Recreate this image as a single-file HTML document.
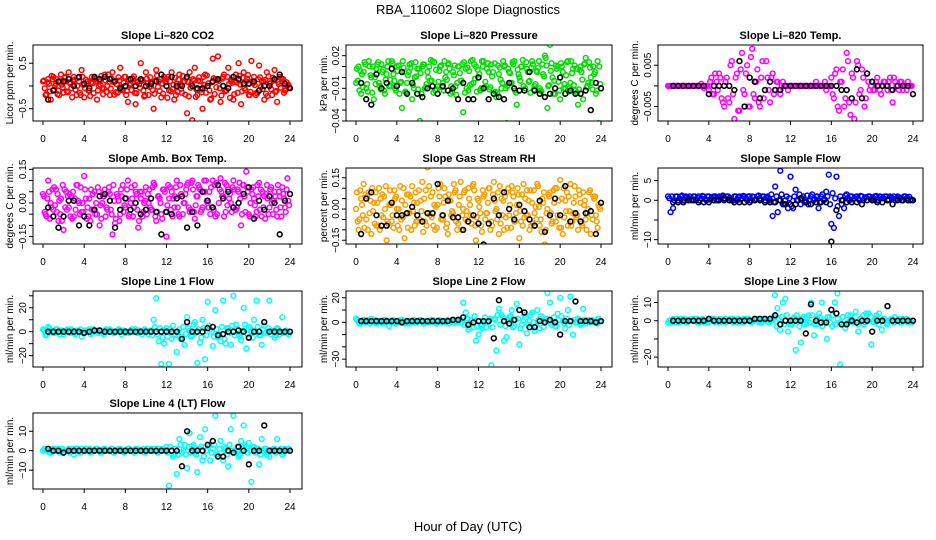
<!DOCTYPE html>
<html><head><meta charset="utf-8"><title>RBA_110602 Slope Diagnostics</title>
<style>
body{margin:0;background:#fff;}
svg{display:block;font-family:"Liberation Sans",Arial,sans-serif;}
.t{font-size:11px;font-weight:bold;}
.tk{font-size:10px;}
.yl{font-size:10px;}
</style></head>
<body>
<svg id="chart" width="936" height="540" viewBox="0 0 936 540" xmlns="http://www.w3.org/2000/svg">
<rect width="936" height="540" fill="#fff"/>
<text x="468" y="14" text-anchor="middle" font-size="13">RBA_110602  Slope Diagnostics</text>
<text x="468" y="531" text-anchor="middle" font-size="13">Hour of Day (UTC)</text>
</svg>
<script>
// ---- data (values per panel) ----
const xTicks = [0,4,8,12,16,20,24];
const co2 = [0.1,-0.2,0.15,-0.3,0.2,0.05,-0.1,0.25,-0.15,0.1,0.3,-0.05,0.2,-0.2,0.1,0.35,-0.25,0.05,-0.1,0.2,0.15,-0.3,0.1,-0.05,0.25,0.0,-0.2,0.3,0.1,-0.15,0.4,-0.1,0.2,-0.35,0.05,0.15,-0.4,0.1,0.5,-0.1,0.3,-0.2,0.0,-0.5,0.35,0.1,-0.25,0.2,0.15,-0.1,0.3,-0.3,0.05,0.25,-0.15,0.1,-0.6,0.3,-0.75,0.4,-0.2,0.1,-0.5,0.25,0.95,-0.3,0.6,0.15,0.65,-0.35,0.2,-0.1,0.4,0.1,-0.3,0.25,0.5,-0.4,0.3,0.1,-0.2,0.55,0.2,-0.15,0.45,0.1,-0.3,0.3,0.05,-0.2,0.35,-0.35,0.2,0.1,-0.1,0.0];
const co2B = [12,-18,5,22,-8,15,-20,3,18,-12,8,-25,14,0,-15,20,-5,10,-22,6,17,-10,2,-18,12,25,-6,9,-14,19,-3,7,-20,13,-9,21,-16,4,11,-23,16,-2,8,-17,23,-11,5,14,-26,10,-7,18,-13,3,22,-19,9,-4,15,-24,12,-8,20,-15,6,-28,17,-3,11,-21,25,-10,4,14,-18,8,22,-12,-5,16,-20,10,2,-16,19,-7,13,-22,6,18,-13,9,-4,15,-9,3].map(v=>v/100);
const co2C = [-5,8,-12,15,0,-18,10,-3,20,-14,5,12,-8,18,-20,2,14,-10,7,-16,11,0,22,-6,-13,9,16,-19,4,12,-7,20,-11,2,17,-15,8,-4,13,-21,6,19,-9,11,-2,15,-17,8,20,-12,3,-20,14,-6,10,17,-23,5,12,-8,19,-14,2,23,-10,8,-18,13,-5,16,-12,20,-26,7,11,-15,3,18,-9,24,-13,6,-20,15,-2,10,-17,21,-7,12,-11,4,17,-15,8,-3].map(v=>v/100);
const co2Avg = [-0.3,-0.1,0.1,0.1,0.15,0.0,0.2,0.05,-0.05,0.2,0.15,0.2,0.15,0.1,-0.05,0.0,0.15,0.0,0.15,0.0,0.05,0.1,0.25,0.0,0.2,0.0,0.0,0.2,0.0,-0.05,-0.05,0.0,0.1,0.15,0.0,-0.05,0.2,0.15,0.05,0.05,0.1,-0.1,0.0,0.0,0.15,0.25,0.05,-0.05];
const press = [-5,10,-15,5,-10,15,0,-20,8,-5,12,-12,3,-8,15,-3,10,-15,-28,5,-5,12,-20,0,8,-40,10,-10,5,-3,15,-12,-8,10,-5,0,12,-15,5,-8,10,-3,-32,8,-12,15,-5,10,0,-10,15,-8,5,12,-15,-18,3,-10,10,-42,5,-5,15,-25,0,10,-12,8,-3,15,-8,5,-10,12,20,-28,30,0,-15,10,-20,5,-10,15,-5,8,-12,-25,10,-20,18,-5,0,10,-15,-42].map(v=>v/1000);
const pressB = [8,-12,3,14,-6,10,-14,0,12,-8,5,-15,10,-2,13,-10,6,-5,15,-13,2,9,-7,14,-11,4,12,-9,0,16,-14,7,-4,11,-12,5,13,-8,2,-16,10,-3,14,-10,6,-6,12,-13,3,15,-9,8,-11,1,13,-14,9,-5,11,-8,4,14,-12,7,-3,16,-10,5,-14,12,-6,9,-12,3,18,-8,6,-15,11,-4,13,-10,2,-13,15,-7,8,-11,5,12,-9,14,-5,3,-12,10].map(v=>v/1000);
const pressC = [-3,6,-9,12,-13,2,10,-6,14,-11,7,-2,15,-8,3,-12,11,-4,9,-14,5,13,-10,1,8,-15,12,-6,10,-3,14,-11,6,-9,15,-2,8,-13,11,-5,4,12,-14,9,-7,16,-1,7,-12,10,-4,13,-9,5,-13,11,-2,15,-10,8,-5,12,-14,3,10,-8,14,-4,9,-11,6,15,-13,1,11,-7,13,-3,8,-12,10,-6,14,-10,4,11,-14,7,-2,13,-8,9,-11,5,15,-6].map(v=>v/1000);
const pressAvg = [-5,-20,-25,3,-10,-5,8,-8,5,-15,-5,-15,-18,-10,-8,-15,-8,-12,-10,-20,-5,-20,-20,0,-10,-20,-15,-18,-20,-5,-10,-12,-12,5,-12,-15,-18,-15,-10,0,-15,-12,-15,-15,-12,-30,-5,-10].map(v=>v/1000);
const temp = [0,0,0,0,0,0,0,0,0,0,0,0,0,0.5,-0.5,0,-1,2,-2,1,3,-3,-5,2,-4,6,-8,3,-6,8,-2,5,-5,9,-3,4,-5,6,-1,2,-4,3,-1,1,-2,1,0,-1,0,0,0,0,0,0,0,0,0,0,1,0,0,0,-1,0,2,-3,4,-6,1,-5,8,-4,3,-8,6,-2,4,-5,3,-1,1,-1,2,-1,0,1,-1,2,-4,1,0,1,-1,0,1,0].map(v=>v/1000);
const tempB = [0,0,0,0,0,0,0,0,0,0,0,0,0,0,0,0,1,-2,3,-1,2,-4,1,-3,5,-2,2,-6,4,-1,3,-5,7,-2,1,-4,2,-3,6,-1,2,-2,1,-1,0,0,0,0,0,0,0,0,0,0,0,0,0,0,0,0,0,1,0,0,-2,3,-5,1,4,-3,6,-7,2,-4,5,-1,2,-3,1,0,-1,1,0,-2,1,0,1,-1,2,0,-1,1,0,-1,0,0].map(v=>v/1000);
const tempAvg = [0,0,0,0,0,0,0,-2,0,0,0,0,-1,6,-5,2,1,-3,-1,1,-1,-1,0,0,0,0,0,0,0,0,0,0,0,-1,-1,-3,4,-3,3,1,0,0,0,-1,0,0,0,-2].map(v=>v/1000);
const boxT = [4,-5,10,0,-3,6,-8,2,-12,5,-2,3,-6,8,0,-4,12,-7,2,-3,5,-5,-10,0,6,-3,4,-14,-9,3,-5,8,-2,10,0,-6,5,-11,2,-4,7,0,-3,9,-8,3,-5,6,-15,2,5,-2,10,-6,3,0,8,-4,10,-7,3,6,-2,5,0,-5,10,-6,8,11,3,-4,6,0,10,-3,5,-10,8,14,-5,6,2,-4,9,-6,3,8,-2,0,5,-6,3,7,-2,11].map(v=>v/100);
const boxTB = [3,-6,5,-2,7,-4,1,-8,6,-3,4,-7,2,8,-5,0,6,-2,-8,4,-5,7,-1,3,-6,5,-3,8,-7,1,6,-4,2,-6,7,-2,4,-8,5,0,-5,6,-3,8,-4,2,-7,5,-1,7,-6,3,-2,8,-5,4,9,-3,6,-1,8,-4,5,10,-2,7,-3,9,0,5,-6,8,2,-4,6,-2,9,-5,3,7,-6,4,-1,8,-3,5,-7,2,6,-5,3,8,-2,4,-4,1].map(v=>v/100);
const boxTC = [-4,2,-7,6,-1,4,-5,8,-2,3,-6,5,-3,1,7,-4,2,-6,6,-3,0,5,-7,3,-2,7,-5,1,4,-8,3,-1,6,-5,2,8,-3,5,-6,1,4,-2,7,-6,3,0,6,-4,8,-3,2,7,-5,4,0,6,-2,9,-4,3,7,-3,10,1,5,-2,8,-5,6,3,9,-1,4,7,-3,6,2,8,-4,5,0,7,-6,3,6,-2,4,-5,7,1,-3,5,-6,2,6,-1].map(v=>v/100);
const boxTAvg = [-2,-6,-11,-6,1,1,-10,-6,-10,-3,3,4,1,-11,-3,2,-3,0,-5,-3,2,-4,-14,-4,-5,2,3,-11,-4,-10,5,1,-2,8,2,5,-2,0,4,7,-7,1,-3,3,0,-14,1,4].map(v=>v/100);
const rh = [0,-10,5,12,-5,8,-12,3,-8,10,-3,6,-15,2,-6,9,0,-10,4,-14,7,-2,11,-8,3,-5,13,-6,20,-3,8,-10,2,12,-5,6,-12,4,-2,9,-7,13,0,-5,10,-3,12,-15,4,-8,6,-2,10,-6,13,0,-12,5,-10,8,-3,11,-6,2,-14,7,-4,9,-10,3,-2,12,-8,5,-17,0,8,-6,10,-3,14,-12,4,-8,12,-2,6,-10,3,8,-5,0,-12,6,-3,2].map(v=>v/100);
const rhB = [8,-5,2,-9,6,-2,10,-7,3,-10,7,0,-6,9,-3,5,-8,11,-4,2,-9,6,-1,8,-6,4,-11,9,-2,6,-8,1,10,-5,3,-9,7,-3,12,-6,2,-10,8,-1,5,-7,9,-4,1,-11,7,-2,10,-8,4,-5,11,-3,6,-9,2,8,-6,10,-1,-8,5,-3,9,-7,1,11,-5,3,-10,7,-2,9,-6,4,-9,10,-1,6,-8,3,-4,9,-7,2,-10,8,-3,5,-6,1].map(v=>v/100);
const rhC = [-6,9,-3,7,-10,4,-1,8,-8,5,-4,11,-7,2,-9,6,0,-5,10,-2,7,-10,3,-6,9,-1,5,-8,11,-4,2,-9,6,-3,10,-7,4,-1,8,-10,6,-3,9,-6,2,11,-8,5,-2,9,-5,3,-10,7,-1,8,-7,4,-4,10,-9,6,-2,7,-6,12,-3,4,-8,9,-5,1,-11,8,-2,6,-7,3,10,-9,5,-4,8,-1,-6,11,-3,7,-8,4,-2,9,-5,6,-9,0].map(v=>v/100);
const rhAvg = [-12,5,8,-3,-8,-8,3,-3,-3,-2,1,-3,-6,-2,-2,12,-3,4,-4,-4,-10,-6,-3,-7,-17,-7,5,-3,8,0,-5,2,-1,-5,-8,4,-11,-3,5,-3,11,-6,-2,-6,-2,-1,-12,3].map(v=>v/100);
const sflow = [1,-3,-2,1,0,1,0,1,0.5,0,1,0,1,0.5,1,0,1,0.5,1,0,1,1,0,1,0.5,0,1,0,1,0.5,1,0,1,1,0,1,0.5,1,0,1,0,-4,3.5,-3,7.5,-1,0,-2,6,-2,2.7,0,-1,1,0,-1,1,0,1,-2,1,0,2.2,6.5,-6,-7,6,-4,-1,-2,1.5,0,1,0.5,1,0,1,0.5,0,1,0.5,1,0,1,0.5,1,0,1,0.5,0,1,0.5,0,1,0.5,0];
const sflowB = [0.5,1,0,1,0.5,1.2,0,0.8,1,0.3,1,0.6,0,1.1,0.4,1,0.2,0.9,1,0,0.7,1.2,0.3,1,0.5,0,1,0.8,0.2,1.1,0.6,1,0,0.9,0.4,1.2,0.1,1,0.7,0.3,1.5,-0.5,1,0,1.5,-1,1,0.5,-1.5,1,0,1.5,0.5,-0.5,1.2,0,1.5,0.3,1,-0.5,1.5,0.2,1,-1,1.8,0.5,-1.5,1,0,1.2,0.6,1,0.2,0.9,0.4,1.1,0,0.8,1,0.3,0.6,1.1,0,0.9,0.5,1,0.2,0.7,1,0.4,0.8,0,1,0.5,0.9,0.2];
const sflowAvg = [-0.5,-0.5,-0.5,0,0,-0.5,-0.5,-0.5,0,0,0.5,0,-0.5,-0.5,-0.5,-0.5,0,0,-0.5,-0.5,-0.5,0,-1,-1,-1,0.5,-0.5,-1,-0.5,-0.5,-0.5,-10.5,-2.5,0,-0.5,-0.5,-0.5,-1,0,0,-0.5,-0.5,0,-1,0,0,0,0];
const line1 = [2,-3,4,1,-1,2,0,1,-2,1,0,2,-1,1,0,-4,1,0,2,-1,0,1,0,-1,1,0,2,0,-1,1,0,1,-1,0,1,0,2,-1,0,1,0,-2,1,10,28,-8,-27,-10,3,-27,-6,-2,-17,2,-4,-11,12,1,-3,8,-26,-9,10,-23,25,2,-12,18,-5,-8,26,-10,3,-11,30,6,-2,-7,20,-14,4,0,10,26,-3,-11,5,0,26,1,-5,3,-2,12,0,-1];
const line1B = [1,-2,3,0,-1,2,-2,1,0,2,-1,1,-2,0,2,-1,1,0,-2,2,0,-1,1,-2,2,0,1,-1,0,2,-2,1,0,-1,2,0,-1,1,-2,2,0,1,-3,4,-2,3,-5,1,-4,2,5,-3,0,-6,4,-2,3,-4,6,-1,2,-5,3,-3,5,0,-4,2,-2,4,-6,3,-1,5,-3,2,-4,1,6,-2,3,-5,0,4,-3,2,-1,3,-2,1,-3,2,0,-1,1,-2];
const line1Avg = [0,0,0,0,0,0,0,-1,0,1,1,0,0,0,0,0,0,0,0,0,0,0,0,0,0,0,-6,8,0,0,0,3,4,-3,-2,0,0,1,0,-5,0,0,8,0,0,0,0,0];
const line2 = [3,0,1,2,0,1,3,0,-1,1,0,2,0,-3,1,0,1,0,2,-1,0,1,0,1,0,2,1,0,1,0,2,0,1,0,1,0,2,1,0,1,0,2,16,8,-6,2,-4,-15,-10,-3,0,-4,1,-35,3,-23,11,6,-15,-12,4,10,-3,15,-18,-2,6,-9,1,8,-7,10,-5,4,2,24,16,0,-3,7,20,1,-5,10,21,-10,0,3,-2,11,-1,2,0,1,0,3];
const line2B = [2,-1,1,0,2,-1,1,2,0,1,-1,2,1,0,2,-1,1,2,0,1,-1,1,2,0,1,2,-1,1,0,2,1,-1,2,0,1,1,-1,2,0,1,2,0,-2,3,-4,2,5,-3,1,-5,4,0,3,-4,2,6,-2,4,-3,1,5,-4,2,3,-5,1,4,-2,6,0,-3,2,5,-4,3,1,-2,4,-3,2,5,-1,3,-2,1,2,0,1,-1,2,1,0,2,1,-1,1];
const line2Avg = [1,1,1,1,1,1,1,1,0,1,1,1,1,1,1,1,1,1,2,2,4,-2,0,1,1,1,-13,18,1,-1,2,10,8,-4,-4,1,0,2,0,-10,1,1,17,1,1,1,0,1];
const line3 = [-1,0,1,-1,0,1,0,-1,0,1,0,1,-1,0,-1,0,1,0,1,0,-1,0,1,0,0,1,0,-1,0,1,0,1,0,0,1,-1,0,1,0,1,0,14,7,-5,10,12,-6,-2,1,-16,0,-12,2,-1,3,10,-8,-2,4,10,-1,-10,2,-3,10,15,-24,2,-4,-1,3,0,5,-6,1,-2,4,4,-13,0,3,4,-5,1,-2,0,1,2,0,-1,1,0,-1,0];
const line3B = [0,-1,0,1,-1,0,1,-1,0,0,1,-1,0,1,0,-1,0,1,-1,0,1,0,-1,0,1,-1,0,1,0,-1,1,0,-1,0,1,0,-1,1,0,-1,0,2,-3,1,2,-2,3,-1,-2,2,3,-3,1,-2,2,-1,3,-2,1,2,-3,0,2,-1,3,-2,1,-1,2,-2,3,0,-1,2,-2,1,3,-1,0,2,-1,1,-2,0,1,-1,0,1,-1,0,1,-1,0,1,0,-1];
const line3Avg = [0,0,0,0,0,0,0,1,0,0,0,0,0,0,0,0,1,1,1,1,3,-2,0,0,0,0,-7,9,0,-1,-1,6,4,-2,-2,0,-1,0,0,-6,0,0,8,0,0,0,0,0];
const line4 = [0,1,0,-1,1,0,1,0,-1,0,1,0,-2,1,0,1,0,0,1,0,0,1,0,0,1,0,0,1,0,0,1,0,0,1,0,0,1,0,0,1,0,0,1,0,0,1,0,0,2,-18,0,-2,-12,6,-1,3,-9,9,2,-1,-11,7,-5,11,3,-5,1,18,-3,5,-5,1,-8,11,18,0,-3,5,13,2,4,-16,2,1,-7,6,1,-2,-3,0,1,6,0,-2,1,0];
const line4B = [1,0,-1,0,1,0,-1,1,0,0,-1,1,0,1,-1,0,1,0,-1,0,1,0,-1,1,0,0,1,-1,0,1,0,-1,0,1,0,-1,1,0,0,-1,1,0,0,1,-1,0,1,0,-1,2,-3,1,-2,3,0,-2,2,-1,3,-2,1,2,-3,0,2,-1,3,-2,1,-1,2,-2,3,0,-1,2,-2,1,3,-1,0,2,-1,1,-2,0,1,-1,0,1,-1,0,1,-1,0,1];
const line4Avg = [1,0,0,-1,0,0,0,0,0,0,0,0,0,0,0,0,0,0,0,0,0,0,0,0,0,0,-8,10,0,0,0,3,5,-3,-3,0,-1,2,0,-7,0,0,13,0,0,0,0,0];

const titles = ["Slope Li-820 CO2","Slope Li-820 Pressure","Slope Li-820 Temp.","Slope Amb. Box Temp.","Slope Gas Stream RH","Slope Sample Flow","Slope Line 1 Flow","Slope Line 2 Flow","Slope Line 3 Flow","Slope Line 4 (LT) Flow"];
const yTitles = ["Licor ppm per min.","kPa per min.","degrees C per min.","degrees C per min.","percent per min.","ml/min per min.","ml/min per min.","ml/min per min.","ml/min per min.","ml/min per min."];
const yTickVals = [[-0.5,0,0.5],[-0.04,-0.03,-0.02,-0.01,0,0.01,0.02],[-0.005,0,0.005],[-0.15,-0.1,-0.05,0,0.05,0.1,0.15],[-0.15,-0.1,-0.05,0,0.05,0.1,0.15],[-10,-5,0,5],[-20,-10,0,10,20,30],[-30,-20,-10,0,10,20],[-20,-10,0,10],[-10,0,10]];
const yTickLabels = [["-0.5","","0.5"],["-0.04","","","-0.01","","","0.02"],["-0.005","","0.005"],["-0.15","","","0.00","","","0.15"],["-0.15","","","0.00","","","0.15"],["-10","","0","5"],["-20","","0","","20",""],["-30","","","0","","20"],["-20","","0","10"],["-10","0","10"]];
const series = [[co2,co2B,co2C],[press,pressB,pressC],[temp,tempB],[boxT,boxTB,boxTC],[rh,rhB,rhC],[sflow,sflowB],[line1,line1B],[line2,line2B],[line3,line3B],[line4,line4B]];
const seriesAvg = [co2Avg,pressAvg,tempAvg,boxTAvg,rhAvg,sflowAvg,line1Avg,line2Avg,line3Avg,line4Avg];
const colors = ["#ff0000","#00dd00","#ff00ff","#ff00ff","#f5a000","#0000ff","#00ffff","#00ffff","#00ffff","#00ffff"];
// layout (not data)
const yDomains = [[-0.77,0.9],[-0.04,0.0298],[-0.0085,0.0099],[-0.183,0.156],[-0.168,0.197],[-11.1,8.2],[-29.5,34],[-36.4,25.5],[-25.4,16.3],[-19.7,19.4]];
const cols = [{l:33,r:302,x0:43,x1:290,yl:9},{l:346,r:612,x0:356,x1:601,yl:323},{l:658,r:923,x0:668,x1:913,yl:634}];
const rowTops = [45,168,291,413];
const H = 76;

const svg = document.getElementById('chart');
const NS = 'http://www.w3.org/2000/svg';
function mk(tag, attrs, parent){const e=document.createElementNS(NS,tag);for(const k in attrs)e.setAttribute(k,attrs[k]);(parent||svg).appendChild(e);return e;}

for(let p=0;p<10;p++){
  const c=cols[p%3], top=rowTops[Math.floor(p/3)], bot=top+H;
  const g=mk('g',{});
  
  
  const [ymin,ymax]=yDomains[p];
  const xs=h=>c.x0+(c.x1-c.x0)*h/24;
  const ys=v=>bot-(v-ymin)/(ymax-ymin)*H;
  const clip=mk('clipPath',{id:'cp'+p},g);
  mk('rect',{x:c.l,y:top,width:c.r-c.l,height:H},clip);
  const t=mk('text',{x:(c.l+c.r)/2,y:top-6,'text-anchor':'middle',class:'t'},g);
  t.textContent=titles[p].replace(/-/g,'\u2013');
  
  
  const yt=mk('text',{x:0,y:0,'text-anchor':'middle',class:'yl',transform:`translate(${c.yl+4},${top+H/2}) rotate(-90)`},g);
  yt.textContent=yTitles[p];
  
  
  const pts=mk('g',{'clip-path':`url(#cp${p})`,fill:'none'},g);
  
  
  series[p].forEach((s,k)=>{
    const off=k/series[p].length;
    s.forEach((v,i)=>{
      const ci=mk('circle',{cx:xs((i+off)*24/s.length),cy:ys(v),r:2.4,stroke:colors[p],'stroke-width':1.5},pts);
      
      
    });
  });
  const a=seriesAvg[p];
  a.forEach((v,i)=>{
    const ci=mk('circle',{cx:xs(0.5+i*23.5/(a.length-1)),cy:ys(v),r:2.4,stroke:'#000','stroke-width':1.6},pts);
    
    
  });
  const b=mk('rect',{x:c.l,y:top,width:c.r-c.l,height:H,fill:'none',stroke:'#000','stroke-width':1},g);
  
  
  xTicks.forEach(h=>{
    mk('line',{x1:xs(h),x2:xs(h),y1:bot,y2:bot+4,stroke:'#000'},g);
    const l=mk('text',{x:xs(h),y:bot+21,'text-anchor':'middle',class:'tk'},g);
    l.textContent=h;
    
    
  });
  yTickVals[p].forEach((v,i)=>{
    const yy=ys(v);
    mk('line',{x1:c.l-4,x2:c.l,y1:yy,y2:yy,stroke:'#000'},g);
    const txt=yTickLabels[p][i];
    if(txt){
      const l=mk('text',{x:0,y:0,'text-anchor':'middle',class:'tk',transform:`translate(${c.l-7},${yy}) rotate(-90)`},g);
      l.textContent=txt.replace('-','\u2212');
      
      
    }
  });
}
</script>
</body></html>
